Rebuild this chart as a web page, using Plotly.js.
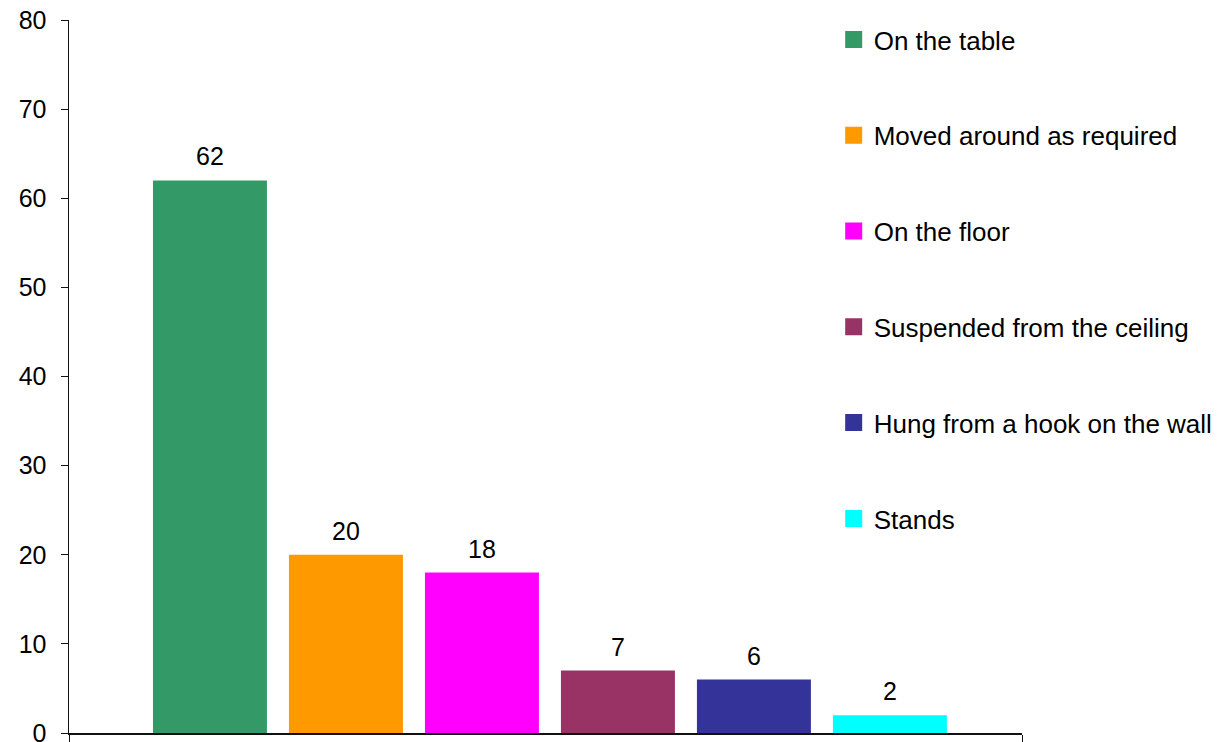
<!DOCTYPE html>
<html>
<head>
<meta charset="utf-8">
<script src="https://cdn.plot.ly/plotly-3.0.1.min.js"></script>
<style>html,body{margin:0;padding:0;background:#fff}#chart{width:1220px;height:742px}</style>
</head>
<body>
<div id="chart"></div>
<script>
const seriesNames = ["On the table", "Moved around as required", "On the floor", "Suspended from the ceiling", "Hung from a hook on the wall", "Stands"];
const seriesValues = [62, 20, 18, 7, 6, 2];
const seriesColors = ["#339966", "#FF9900", "#FF00FF", "#993366", "#333399", "#00FFFF"];
const category = [0];

// layout constants (category-width units)
const barWidth = 0.1196;
const barPitch = 0.1427;
const firstOffset = -0.4119;
const FONT = "Liberation Sans, Arial, sans-serif";

const barTraces = seriesNames.map((name, i) => ({
  type: "bar",
  name: name,
  x: category,
  y: [seriesValues[i]],
  width: [barWidth],
  offset: [firstOffset + i * barPitch],
  marker: {color: seriesColors[i]},
  showlegend: false,
  hoverinfo: "skip"
}));

// legend entries (same series, larger swatches)
const legendTraces = seriesNames.map((name, i) => ({
  type: "bar",
  name: name,
  x: category,
  y: [null],
  marker: {color: seriesColors[i], line: {color: seriesColors[i], width: 5}},
  legendgroup: "g" + i,
  showlegend: true,
  hoverinfo: "skip"
}));

const annotations = seriesNames.map((name, i) => ({
  xref: "x", yref: "y",
  x: firstOffset + i * barPitch + barWidth / 2,
  y: seriesValues[i],
  text: String(seriesValues[i]),
  showarrow: false,
  yanchor: "bottom",
  yshift: 8,
  font: {family: FONT, size: 25, color: "#000"}
}));

const layout = {
  width: 1220, height: 742,
  margin: {l: 69, r: 198, t: 20, b: 9, autoexpand: false},
  paper_bgcolor: "#fff", plot_bgcolor: "#fff",
  font: {family: FONT, size: 25, color: "#000"},
  barmode: "overlay",
  showlegend: true,
  annotations: annotations,
  legend: {x: 0.8024, xanchor: "left", y: 1.0056, yanchor: "top", tracegroupgap: 59,
           maxheight: 742, font: {size: 26}, bgcolor: "rgba(0,0,0,0)"},
  xaxis: {type: "linear", range: [-0.5, 0.5], showline: true, linecolor: "#111", linewidth: 1.5,
          ticks: "outside", tickvals: [-0.5, 0.5], ticklen: 8, tickcolor: "#111",
          showticklabels: false, showgrid: false, zeroline: false, fixedrange: true},
  yaxis: {range: [0, 80], dtick: 10, showline: true, linecolor: "#111", linewidth: 1.5, ticks: "outside",
          ticklen: 7, tickcolor: "#111", showgrid: false, zeroline: false, tickfont: {size: 25},
          ticklabelstandoff: 9, ticklabeloverflow: "allow", fixedrange: true}
};

Plotly.newPlot("chart", barTraces.concat(legendTraces), layout, {displayModeBar: false, staticPlot: true});
</script>
</body>
</html>
